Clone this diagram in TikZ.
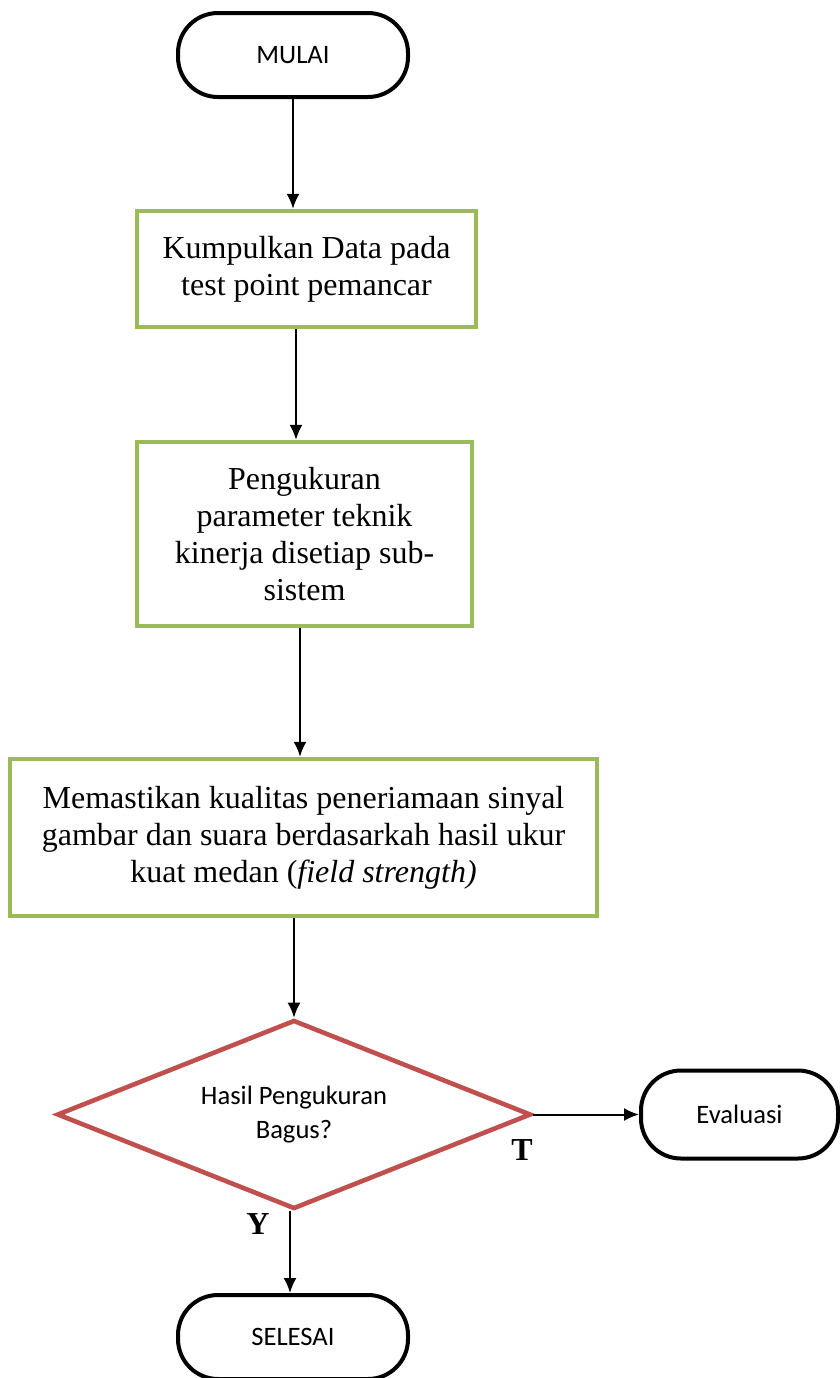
\documentclass[tikz,border=0pt]{standalone}
\usepackage{fontspec}
\setmainfont{Liberation Serif}
\newfontfamily\calib{Carlito}
\usetikzlibrary{shapes.geometric,arrows.meta}
\definecolor{boxgreen}{HTML}{9BBB59}
\definecolor{decred}{HTML}{C0504D}
\tikzset{
  terminal/.style={draw=black, line width=2pt, rounded corners=20pt, fill=white,
    font=\calib\fontsize{13.3}{16}\selectfont, align=center, inner sep=0pt},
  process/.style={draw=boxgreen, line width=2.2pt, fill=white,
    font=\fontsize{16}{18.5}\selectfont, align=center, inner sep=0pt},
  decision/.style={diamond, draw=decred, line width=2.3pt, fill=white, shape aspect=2.5,
    font=\calib\fontsize{13.3}{17}\selectfont, align=center, inner sep=0pt},
  flowarrow/.style={draw=black, line width=1pt, -{Latex[length=7.5pt,width=6.5pt]}},
  branchlabel/.style={font=\bfseries\fontsize{16}{18}\selectfont, inner sep=0pt}
}
\begin{document}
\begin{tikzpicture}[x=0.5pt, y=-0.5pt]
\useasboundingbox (0,0) rectangle (840,1378);

\node[terminal, minimum width=115pt, minimum height=42pt] (mulai) at (293,55) {MULAI};
\node[process, minimum width=169.5pt, minimum height=58pt] (kumpul) at (306.5,269)
  {Kumpulkan Data pada\\test point pemancar};
\node[process, minimum width=167.5pt, minimum height=92pt] (ukur) at (304.5,534)
  {Pengukuran\\parameter teknik\\kinerja disetiap sub-\\sistem};
\node[process, minimum width=293.5pt, minimum height=78.5pt] (pasti) at (303.5,837.5)
  {Memastikan kualitas peneriamaan sinyal\\gambar dan suara berdasarkah hasil ukur\\kuat medan (\textit{field strength)}};
\node[decision, minimum width=237pt, minimum height=94.5pt] (cek) at (294,1114.5)
  {Hasil Pengukuran\\Bagus?};
\node[terminal, minimum width=98.5pt, minimum height=44pt] (evaluasi) at (739.5,1114.5) {Evaluasi};
\node[terminal, minimum width=115pt, minimum height=42pt] (selesai) at (293,1337) {SELESAI};

\node[branchlabel] (labelT) at (522,1150) {T};
\node[branchlabel] (labelY) at (258,1224) {Y};

\draw[flowarrow] (mulai.south) -- (mulai.south |- kumpul.north);
\draw[flowarrow] ([xshift=-5.25pt]kumpul.south) -- ([xshift=-5.25pt]kumpul.south |- ukur.north);
\draw[flowarrow] ([xshift=-2.25pt]ukur.south) -- ([xshift=-2.25pt]ukur.south |- pasti.north);
\draw[flowarrow] (pasti.south -| cek.north) -- (cek.north);
\draw[flowarrow] ([xshift=-2pt]cek.south) -- ([xshift=-2pt]cek.south |- selesai.north);
\draw[flowarrow] (cek.east) -- (evaluasi.west);
\end{tikzpicture}
\end{document}
